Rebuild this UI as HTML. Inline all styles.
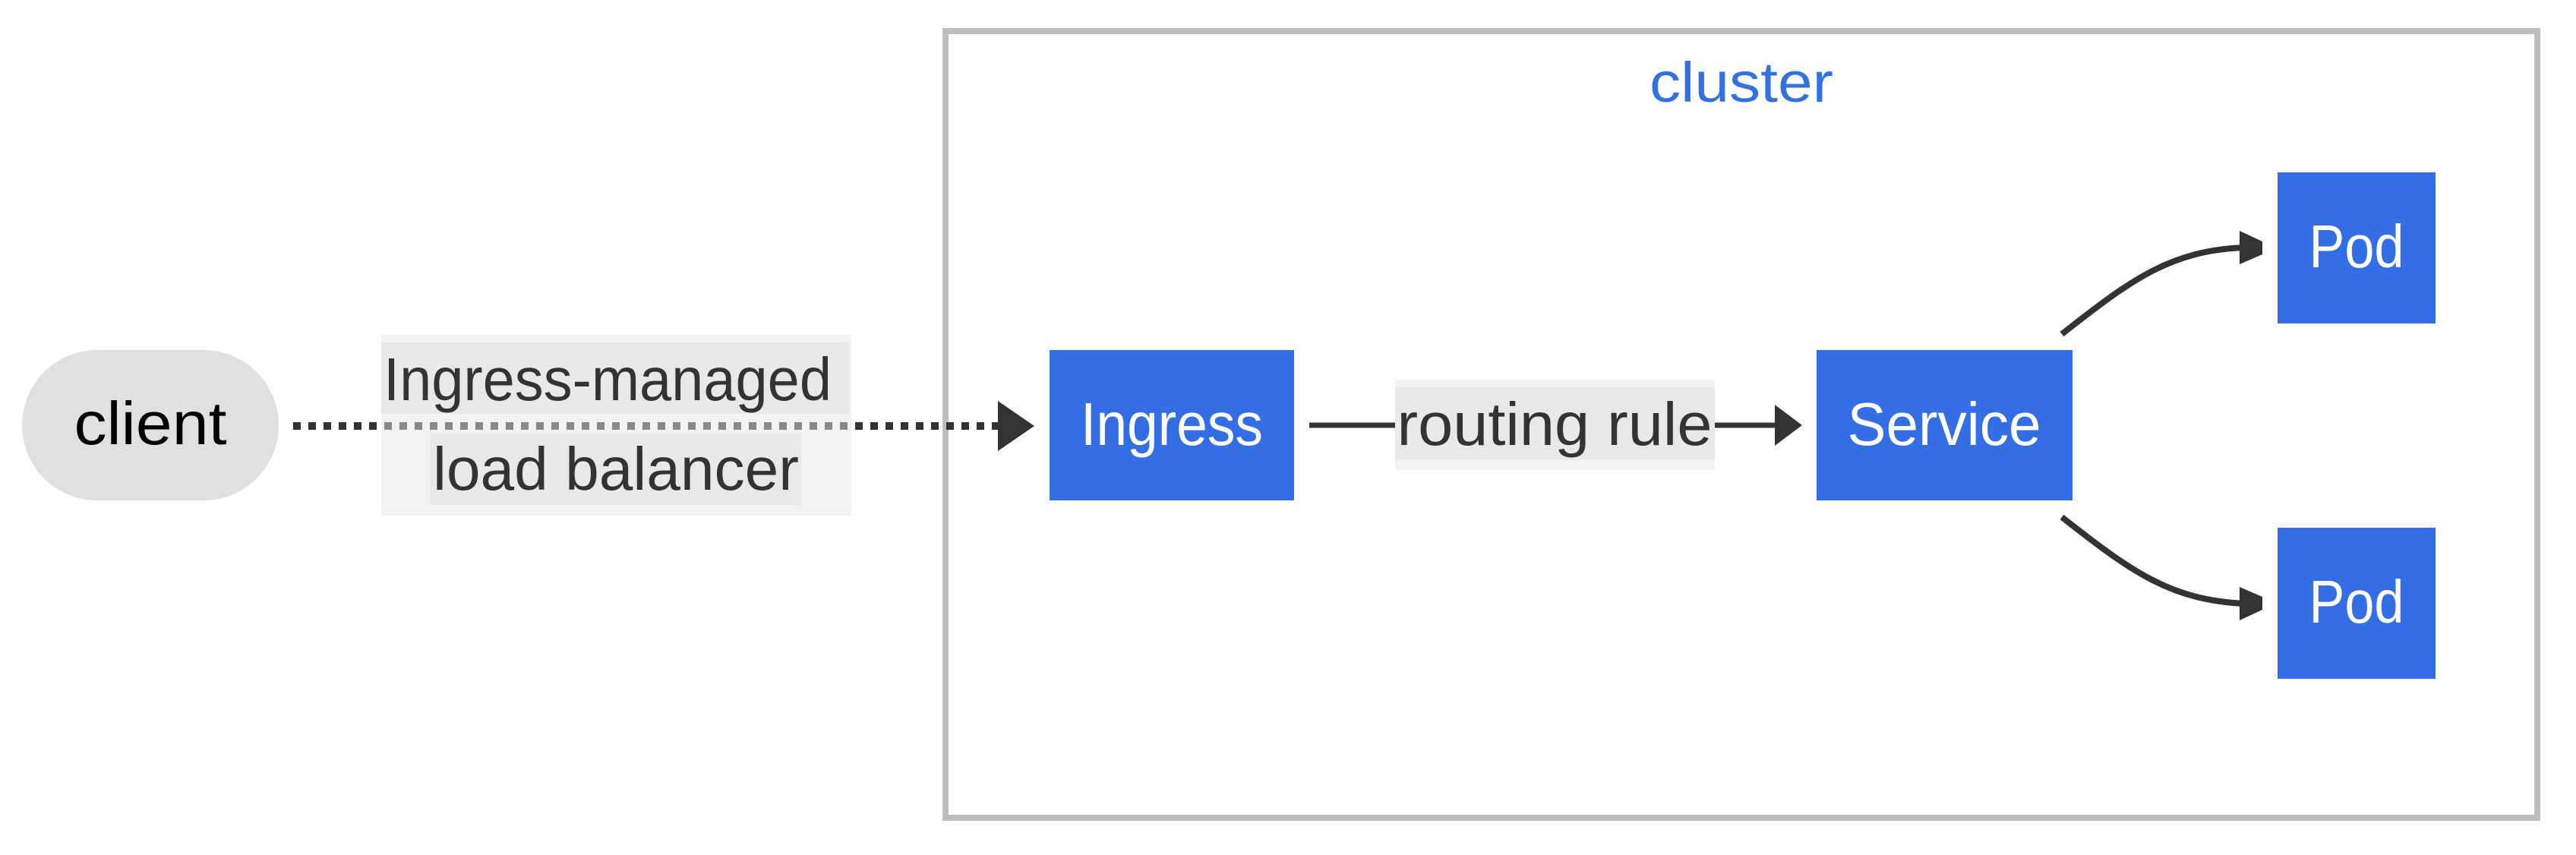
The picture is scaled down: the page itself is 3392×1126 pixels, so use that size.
<!DOCTYPE html>
<html><head><meta charset="utf-8"><style>
html,body{margin:0;padding:0;background:#fff;}
svg{display:block;}
text{font-family:"Liberation Sans",sans-serif;}
</style></head><body>
<svg width="3392" height="1126" viewBox="0 0 3392 1126" xmlns="http://www.w3.org/2000/svg">
<rect x="1245" y="41" width="2096" height="1036" fill="#fff" stroke="#bdbdbd" stroke-width="8"/>
<text x="2293" y="134" font-size="74" fill="#3370e2" text-anchor="middle" textLength="242" lengthAdjust="spacingAndGlyphs">cluster</text>

<!-- client -->
<rect x="29" y="461" width="338" height="198" rx="99" ry="99" fill="#e0e0e0"/>
<text x="198" y="585" font-size="80" fill="#000" text-anchor="middle" textLength="201" lengthAdjust="spacingAndGlyphs">client</text>

<!-- label box -->
<rect x="502" y="441" width="619" height="238" fill="#f2f2f2"/>
<rect x="502" y="451" width="616" height="94" fill="#e8e8e8"/>
<rect x="567" y="570" width="488" height="95" fill="#e8e8e8"/>
<line x1="386" y1="561" x2="1320" y2="561" stroke="#333" stroke-width="10" stroke-dasharray="10,10"/>
<rect x="502" y="551" width="616" height="20" fill="#f2f2f2" opacity="0.45"/>
<path d="M1314,528 L1362,561 L1314,594 z" fill="#333"/>
<text x="800" y="527" font-size="80" fill="#333" text-anchor="middle" textLength="590" lengthAdjust="spacingAndGlyphs">Ingress-managed</text>
<text x="811" y="645" font-size="80" fill="#333" text-anchor="middle" textLength="482" lengthAdjust="spacingAndGlyphs">load balancer</text>

<!-- Ingress -->
<rect x="1382" y="461" width="322" height="198" fill="#336ee4"/>
<text x="1543" y="586" font-size="80" fill="#fff" text-anchor="middle" textLength="240" lengthAdjust="spacingAndGlyphs">Ingress</text>

<!-- routing rule -->
<line x1="1724" y1="560" x2="2340" y2="560" stroke="#333" stroke-width="7"/>
<rect x="1837" y="500" width="421" height="119" fill="#f2f2f2"/>
<rect x="1837" y="510" width="421" height="95" fill="#e8e8e8"/>
<text x="2047" y="586" font-size="80" fill="#333" text-anchor="middle" textLength="415" lengthAdjust="spacingAndGlyphs">routing rule</text>
<line x1="2258" y1="560" x2="2345" y2="560" stroke="#333" stroke-width="7"/>
<path d="M2337,533 L2373,560 L2337,587 z" fill="#333"/>

<!-- Service -->
<rect x="2392" y="461" width="337" height="198" fill="#336ee4"/>
<text x="2560" y="586" font-size="80" fill="#fff" text-anchor="middle" textLength="255" lengthAdjust="spacingAndGlyphs">Service</text>

<!-- Pods -->
<rect x="2999" y="227" width="208" height="199" fill="#336ee4"/>
<text x="3103" y="352" font-size="80" fill="#fff" text-anchor="middle" textLength="125" lengthAdjust="spacingAndGlyphs">Pod</text>
<rect x="2999" y="695" width="208" height="199" fill="#336ee4"/>
<text x="3103" y="820" font-size="80" fill="#fff" text-anchor="middle" textLength="125" lengthAdjust="spacingAndGlyphs">Pod</text>

<path d="M2715,440 C2810,365 2860,330 2955,326" fill="none" stroke="#333" stroke-width="8"/>
<path d="M2949,304 L2979,318 L2979,335 L2949,348 z" fill="#333"/>
<path d="M2715,681 C2810,756 2860,790 2955,795" fill="none" stroke="#333" stroke-width="8"/>
<path d="M2949,773 L2979,786 L2979,803 L2949,817 z" fill="#333"/>
</svg>
</body></html>
